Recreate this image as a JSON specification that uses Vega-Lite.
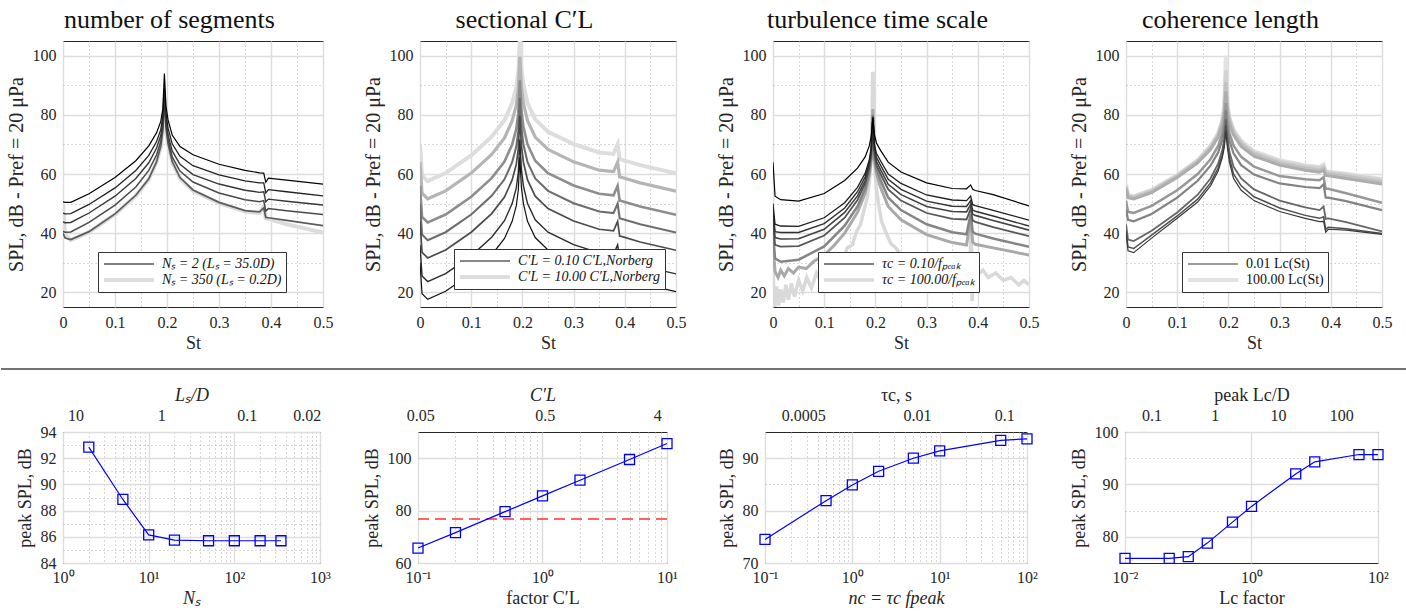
{
"$schema": "https://vega.github.io/schema/vega-lite/v6.json",
"background": "white",
"padding": {"left": 0, "top": 6, "right": 0, "bottom": 0},
"config": {
 "font": "Liberation Serif",
 "view": {"stroke": "#262626", "strokeWidth": 1},
 "title": {"font": "Liberation Serif", "fontSize": 26, "fontWeight": "normal", "color": "#111111", "offset": 8, "anchor": "middle", "frame": "bounds"},
 "axis": {"labelFont": "Liberation Serif", "labelFontSize": 16, "labelColor": "#262626", "titleFont": "Liberation Serif", "titleFontSize": 18, "titleFontWeight": "normal", "titleColor": "#262626", "domain": false, "ticks": false, "labelPadding": 7, "titlePadding": 4, "labelOverlap": false, "labelFlush": false, "grid": true},
 "legend": {"labelFont": "Liberation Serif", "labelFontSize": 14, "labelFontStyle": "italic", "labelColor": "#111111", "strokeColor": "#333333", "fillColor": "white", "padding": 4, "rowPadding": 0, "clipHeight": 16, "labelLimit": 400, "symbolType": "stroke", "labelOffset": 6}
},
"datasets": {
"p1": [
{"s":"350","x":0,"y":50},{"s":"350","x":0.004,"y":39.5},{"s":"350","x":0.015,"y":37.6},{"s":"350","x":0.05,"y":40.3},{"s":"350","x":0.1,"y":46.3},{"s":"350","x":0.14,"y":52.6},{"s":"350","x":0.165,"y":58.2},{"s":"350","x":0.18,"y":64},{"s":"350","x":0.188,"y":69.2},{"s":"350","x":0.192,"y":74.5},{"s":"350","x":0.195,"y":85.7},{"s":"350","x":0.198,"y":75.5},{"s":"350","x":0.202,"y":70},{"s":"350","x":0.21,"y":64},{"s":"350","x":0.225,"y":58.5},{"s":"350","x":0.25,"y":54.3},{"s":"350","x":0.3,"y":50.1},{"s":"350","x":0.35,"y":47.3},{"s":"350","x":0.378,"y":46.8},{"s":"350","x":0.386,"y":49},{"s":"350","x":0.39,"y":45},{"s":"350","x":0.395,"y":44.8},{"s":"350","x":0.43,"y":43},{"s":"350","x":0.5,"y":40.2},
{"s":"50","x":0,"y":40},{"s":"50","x":0.004,"y":38.3},{"s":"50","x":0.015,"y":37.8},{"s":"50","x":0.05,"y":40.5},{"s":"50","x":0.1,"y":46.5},{"s":"50","x":0.14,"y":52.8},{"s":"50","x":0.165,"y":58.4},{"s":"50","x":0.18,"y":64.2},{"s":"50","x":0.188,"y":69.4},{"s":"50","x":0.192,"y":74.7},{"s":"50","x":0.195,"y":85.7},{"s":"50","x":0.198,"y":75.7},{"s":"50","x":0.202,"y":70.2},{"s":"50","x":0.21,"y":64.2},{"s":"50","x":0.225,"y":58.8},{"s":"50","x":0.25,"y":54.6},{"s":"50","x":0.3,"y":50.4},{"s":"50","x":0.35,"y":47.6},{"s":"50","x":0.378,"y":47.2},{"s":"50","x":0.386,"y":48.5},{"s":"50","x":0.39,"y":45.3},{"s":"50","x":0.395,"y":45.2},{"s":"50","x":0.43,"y":44.3},{"s":"50","x":0.5,"y":42.5},
{"s":"20","x":0,"y":40.6},{"s":"20","x":0.004,"y":40.3},{"s":"20","x":0.015,"y":40.4},{"s":"20","x":0.05,"y":43.6},{"s":"20","x":0.1,"y":49.5},{"s":"20","x":0.14,"y":55.6},{"s":"20","x":0.165,"y":61.2},{"s":"20","x":0.18,"y":66.5},{"s":"20","x":0.188,"y":71},{"s":"20","x":0.192,"y":76},{"s":"20","x":0.195,"y":85.8},{"s":"20","x":0.198,"y":77},{"s":"20","x":0.202,"y":71.6},{"s":"20","x":0.21,"y":65.8},{"s":"20","x":0.225,"y":61},{"s":"20","x":0.25,"y":57.3},{"s":"20","x":0.3,"y":53.6},{"s":"20","x":0.35,"y":51.3},{"s":"20","x":0.378,"y":50.6},{"s":"20","x":0.386,"y":51},{"s":"20","x":0.39,"y":47.5},{"s":"20","x":0.395,"y":48.3},{"s":"20","x":0.43,"y":47.6},{"s":"20","x":0.5,"y":46.3},
{"s":"10","x":0,"y":43.8},{"s":"10","x":0.004,"y":43.5},{"s":"10","x":0.015,"y":43.6},{"s":"10","x":0.05,"y":46.8},{"s":"10","x":0.1,"y":52.5},{"s":"10","x":0.14,"y":58.5},{"s":"10","x":0.165,"y":63.8},{"s":"10","x":0.18,"y":68.8},{"s":"10","x":0.188,"y":73},{"s":"10","x":0.192,"y":77.5},{"s":"10","x":0.195,"y":86.2},{"s":"10","x":0.198,"y":78.5},{"s":"10","x":0.202,"y":73.2},{"s":"10","x":0.21,"y":67.8},{"s":"10","x":0.225,"y":63.3},{"s":"10","x":0.25,"y":59.8},{"s":"10","x":0.3,"y":56.6},{"s":"10","x":0.35,"y":54.5},{"s":"10","x":0.378,"y":53.8},{"s":"10","x":0.386,"y":54},{"s":"10","x":0.39,"y":50.6},{"s":"10","x":0.395,"y":51.5},{"s":"10","x":0.43,"y":50.8},{"s":"10","x":0.5,"y":49.5},
{"s":"5","x":0,"y":46.8},{"s":"5","x":0.004,"y":46.5},{"s":"5","x":0.015,"y":46.6},{"s":"5","x":0.05,"y":49.7},{"s":"5","x":0.1,"y":55.3},{"s":"5","x":0.14,"y":61.2},{"s":"5","x":0.165,"y":66.3},{"s":"5","x":0.18,"y":71},{"s":"5","x":0.188,"y":75},{"s":"5","x":0.192,"y":79.5},{"s":"5","x":0.195,"y":89},{"s":"5","x":0.198,"y":80.5},{"s":"5","x":0.202,"y":75.5},{"s":"5","x":0.21,"y":70.2},{"s":"5","x":0.225,"y":66},{"s":"5","x":0.25,"y":62.8},{"s":"5","x":0.3,"y":59.7},{"s":"5","x":0.35,"y":57.7},{"s":"5","x":0.378,"y":57},{"s":"5","x":0.386,"y":57},{"s":"5","x":0.39,"y":53.6},{"s":"5","x":0.395,"y":54.7},{"s":"5","x":0.43,"y":54},{"s":"5","x":0.5,"y":52.6},
{"s":"2","x":0,"y":50.6},{"s":"2","x":0.004,"y":50.4},{"s":"2","x":0.015,"y":50.4},{"s":"2","x":0.05,"y":53.3},{"s":"2","x":0.1,"y":58.8},{"s":"2","x":0.14,"y":64.5},{"s":"2","x":0.165,"y":69.5},{"s":"2","x":0.18,"y":74},{"s":"2","x":0.188,"y":77.8},{"s":"2","x":0.192,"y":82},{"s":"2","x":0.195,"y":94},{"s":"2","x":0.198,"y":83},{"s":"2","x":0.202,"y":78.3},{"s":"2","x":0.21,"y":73.2},{"s":"2","x":0.225,"y":69.3},{"s":"2","x":0.25,"y":66.5},{"s":"2","x":0.3,"y":63.3},{"s":"2","x":0.35,"y":61.2},{"s":"2","x":0.378,"y":60.4},{"s":"2","x":0.386,"y":60.3},{"s":"2","x":0.39,"y":57.2},{"s":"2","x":0.395,"y":58.6},{"s":"2","x":0.43,"y":57.9},{"s":"2","x":0.5,"y":56.6}
],
"p2": [
{"s":"10","x":0,"y":70},{"s":"10","x":0.004,"y":59.5},{"s":"10","x":0.015,"y":57.6},{"s":"10","x":0.05,"y":60.3},{"s":"10","x":0.1,"y":66.3},{"s":"10","x":0.14,"y":72.6},{"s":"10","x":0.165,"y":78.2},{"s":"10","x":0.18,"y":84},{"s":"10","x":0.188,"y":89.2},{"s":"10","x":0.192,"y":94.5},{"s":"10","x":0.195,"y":105.7},{"s":"10","x":0.198,"y":95.5},{"s":"10","x":0.202,"y":90},{"s":"10","x":0.21,"y":84},{"s":"10","x":0.225,"y":78.5},{"s":"10","x":0.25,"y":74.3},{"s":"10","x":0.3,"y":70.1},{"s":"10","x":0.35,"y":67.3},{"s":"10","x":0.378,"y":66.8},{"s":"10","x":0.386,"y":70},{"s":"10","x":0.39,"y":65},{"s":"10","x":0.395,"y":64.8},{"s":"10","x":0.43,"y":63},{"s":"10","x":0.5,"y":60.2},
{"s":"5","x":0,"y":64},{"s":"5","x":0.004,"y":53.5},{"s":"5","x":0.015,"y":51.6},{"s":"5","x":0.05,"y":54.3},{"s":"5","x":0.1,"y":60.3},{"s":"5","x":0.14,"y":66.6},{"s":"5","x":0.165,"y":72.2},{"s":"5","x":0.18,"y":78},{"s":"5","x":0.188,"y":83.2},{"s":"5","x":0.192,"y":88.5},{"s":"5","x":0.195,"y":99.7},{"s":"5","x":0.198,"y":89.5},{"s":"5","x":0.202,"y":84},{"s":"5","x":0.21,"y":78},{"s":"5","x":0.225,"y":72.5},{"s":"5","x":0.25,"y":68.3},{"s":"5","x":0.3,"y":64.1},{"s":"5","x":0.35,"y":61.3},{"s":"5","x":0.378,"y":60.8},{"s":"5","x":0.386,"y":64},{"s":"5","x":0.39,"y":59},{"s":"5","x":0.395,"y":58.8},{"s":"5","x":0.43,"y":57},{"s":"5","x":0.5,"y":54.2},
{"s":"2","x":0,"y":56},{"s":"2","x":0.004,"y":45.5},{"s":"2","x":0.015,"y":43.6},{"s":"2","x":0.05,"y":46.3},{"s":"2","x":0.1,"y":52.3},{"s":"2","x":0.14,"y":58.6},{"s":"2","x":0.165,"y":64.2},{"s":"2","x":0.18,"y":70},{"s":"2","x":0.188,"y":75.2},{"s":"2","x":0.192,"y":80.5},{"s":"2","x":0.195,"y":91.7},{"s":"2","x":0.198,"y":81.5},{"s":"2","x":0.202,"y":76},{"s":"2","x":0.21,"y":70},{"s":"2","x":0.225,"y":64.5},{"s":"2","x":0.25,"y":60.3},{"s":"2","x":0.3,"y":56.1},{"s":"2","x":0.35,"y":53.3},{"s":"2","x":0.378,"y":52.8},{"s":"2","x":0.386,"y":56},{"s":"2","x":0.39,"y":51},{"s":"2","x":0.395,"y":50.8},{"s":"2","x":0.43,"y":49},{"s":"2","x":0.5,"y":46.2},
{"s":"1","x":0,"y":50},{"s":"1","x":0.004,"y":39.5},{"s":"1","x":0.015,"y":37.6},{"s":"1","x":0.05,"y":40.3},{"s":"1","x":0.1,"y":46.3},{"s":"1","x":0.14,"y":52.6},{"s":"1","x":0.165,"y":58.2},{"s":"1","x":0.18,"y":64},{"s":"1","x":0.188,"y":69.2},{"s":"1","x":0.192,"y":74.5},{"s":"1","x":0.195,"y":85.7},{"s":"1","x":0.198,"y":75.5},{"s":"1","x":0.202,"y":70},{"s":"1","x":0.21,"y":64},{"s":"1","x":0.225,"y":58.5},{"s":"1","x":0.25,"y":54.3},{"s":"1","x":0.3,"y":50.1},{"s":"1","x":0.35,"y":47.3},{"s":"1","x":0.378,"y":46.8},{"s":"1","x":0.386,"y":50},{"s":"1","x":0.39,"y":45},{"s":"1","x":0.395,"y":44.8},{"s":"1","x":0.43,"y":43},{"s":"1","x":0.5,"y":40.2},
{"s":"0.5","x":0,"y":44},{"s":"0.5","x":0.004,"y":33.5},{"s":"0.5","x":0.015,"y":31.6},{"s":"0.5","x":0.05,"y":34.3},{"s":"0.5","x":0.1,"y":40.3},{"s":"0.5","x":0.14,"y":46.6},{"s":"0.5","x":0.165,"y":52.2},{"s":"0.5","x":0.18,"y":58},{"s":"0.5","x":0.188,"y":63.2},{"s":"0.5","x":0.192,"y":68.5},{"s":"0.5","x":0.195,"y":79.7},{"s":"0.5","x":0.198,"y":69.5},{"s":"0.5","x":0.202,"y":64},{"s":"0.5","x":0.21,"y":58},{"s":"0.5","x":0.225,"y":52.5},{"s":"0.5","x":0.25,"y":48.3},{"s":"0.5","x":0.3,"y":44.1},{"s":"0.5","x":0.35,"y":41.3},{"s":"0.5","x":0.378,"y":40.8},{"s":"0.5","x":0.386,"y":44},{"s":"0.5","x":0.39,"y":39},{"s":"0.5","x":0.395,"y":38.8},{"s":"0.5","x":0.43,"y":37},{"s":"0.5","x":0.5,"y":34.2},
{"s":"0.2","x":0,"y":36},{"s":"0.2","x":0.004,"y":25.5},{"s":"0.2","x":0.015,"y":23.6},{"s":"0.2","x":0.05,"y":26.3},{"s":"0.2","x":0.1,"y":32.3},{"s":"0.2","x":0.14,"y":38.6},{"s":"0.2","x":0.165,"y":44.2},{"s":"0.2","x":0.18,"y":50},{"s":"0.2","x":0.188,"y":55.2},{"s":"0.2","x":0.192,"y":60.5},{"s":"0.2","x":0.195,"y":71.7},{"s":"0.2","x":0.198,"y":61.5},{"s":"0.2","x":0.202,"y":56},{"s":"0.2","x":0.21,"y":50},{"s":"0.2","x":0.225,"y":44.5},{"s":"0.2","x":0.25,"y":40.3},{"s":"0.2","x":0.3,"y":36.1},{"s":"0.2","x":0.35,"y":33.3},{"s":"0.2","x":0.378,"y":32.8},{"s":"0.2","x":0.386,"y":36},{"s":"0.2","x":0.39,"y":31},{"s":"0.2","x":0.395,"y":30.8},{"s":"0.2","x":0.43,"y":29},{"s":"0.2","x":0.5,"y":26.2},
{"s":"0.1","x":0,"y":30},{"s":"0.1","x":0.004,"y":19.5},{"s":"0.1","x":0.015,"y":17.6},{"s":"0.1","x":0.05,"y":20.3},{"s":"0.1","x":0.1,"y":26.3},{"s":"0.1","x":0.14,"y":32.6},{"s":"0.1","x":0.165,"y":38.2},{"s":"0.1","x":0.18,"y":44},{"s":"0.1","x":0.188,"y":49.2},{"s":"0.1","x":0.192,"y":54.5},{"s":"0.1","x":0.195,"y":65.7},{"s":"0.1","x":0.198,"y":55.5},{"s":"0.1","x":0.202,"y":50},{"s":"0.1","x":0.21,"y":44},{"s":"0.1","x":0.225,"y":38.5},{"s":"0.1","x":0.25,"y":34.3},{"s":"0.1","x":0.3,"y":30.1},{"s":"0.1","x":0.35,"y":27.3},{"s":"0.1","x":0.378,"y":26.8},{"s":"0.1","x":0.386,"y":30},{"s":"0.1","x":0.39,"y":25},{"s":"0.1","x":0.395,"y":24.8},{"s":"0.1","x":0.43,"y":23},{"s":"0.1","x":0.5,"y":20.2}
],
"p3": [
{"s":"100","x":0,"y":28},{"s":"100","x":0.003,"y":14},{"s":"100","x":0.007,"y":22},{"s":"100","x":0.011,"y":15.5},{"s":"100","x":0.015,"y":21},{"s":"100","x":0.02,"y":16.5},{"s":"100","x":0.025,"y":22.5},{"s":"100","x":0.03,"y":17.5},{"s":"100","x":0.036,"y":23},{"s":"100","x":0.042,"y":18.5},{"s":"100","x":0.05,"y":24},{"s":"100","x":0.058,"y":20.5},{"s":"100","x":0.066,"y":25},{"s":"100","x":0.075,"y":21.5},{"s":"100","x":0.085,"y":26.5},{"s":"100","x":0.095,"y":23.5},{"s":"100","x":0.105,"y":28.5},{"s":"100","x":0.115,"y":26.5},{"s":"100","x":0.125,"y":31},{"s":"100","x":0.135,"y":30},{"s":"100","x":0.145,"y":35},{"s":"100","x":0.155,"y":36},{"s":"100","x":0.163,"y":40.5},{"s":"100","x":0.171,"y":43},{"s":"100","x":0.178,"y":48},{"s":"100","x":0.184,"y":52},{"s":"100","x":0.188,"y":57},{"s":"100","x":0.191,"y":63},{"s":"100","x":0.193,"y":72},{"s":"100","x":0.1945,"y":94},{"s":"100","x":0.1955,"y":94},{"s":"100","x":0.197,"y":72},{"s":"100","x":0.199,"y":62},{"s":"100","x":0.202,"y":55},{"s":"100","x":0.206,"y":50},{"s":"100","x":0.212,"y":44},{"s":"100","x":0.22,"y":40.5},{"s":"100","x":0.23,"y":36.5},{"s":"100","x":0.24,"y":35},{"s":"100","x":0.25,"y":32.5},{"s":"100","x":0.265,"y":32},{"s":"100","x":0.28,"y":29.5},{"s":"100","x":0.295,"y":29.5},{"s":"100","x":0.31,"y":27.5},{"s":"100","x":0.325,"y":28},{"s":"100","x":0.34,"y":26.5},{"s":"100","x":0.355,"y":27},{"s":"100","x":0.37,"y":25.5},{"s":"100","x":0.38,"y":26.5},{"s":"100","x":0.385,"y":30},{"s":"100","x":0.387,"y":45},{"s":"100","x":0.389,"y":17},{"s":"100","x":0.392,"y":29},{"s":"100","x":0.4,"y":26},{"s":"100","x":0.41,"y":27.5},{"s":"100","x":0.42,"y":25},{"s":"100","x":0.435,"y":26.5},{"s":"100","x":0.45,"y":24},{"s":"100","x":0.465,"y":25},{"s":"100","x":0.48,"y":22.5},{"s":"100","x":0.49,"y":24},{"s":"100","x":0.5,"y":22.5},
{"s":"50","x":0,"y":36},{"s":"50","x":0.004,"y":27},{"s":"50","x":0.01,"y":25},{"s":"50","x":0.015,"y":27.5},{"s":"50","x":0.022,"y":25.5},{"s":"50","x":0.03,"y":28},{"s":"50","x":0.04,"y":26.5},{"s":"50","x":0.05,"y":28.5},{"s":"50","x":0.065,"y":28},{"s":"50","x":0.08,"y":30.5},{"s":"50","x":0.1,"y":32.5},{"s":"50","x":0.12,"y":36},{"s":"50","x":0.14,"y":40},{"s":"50","x":0.165,"y":47},{"s":"50","x":0.18,"y":53.5},{"s":"50","x":0.188,"y":59.5},{"s":"50","x":0.192,"y":65},{"s":"50","x":0.195,"y":82},{"s":"50","x":0.198,"y":65},{"s":"50","x":0.202,"y":60},{"s":"50","x":0.21,"y":55.5},{"s":"50","x":0.225,"y":49},{"s":"50","x":0.25,"y":44.5},{"s":"50","x":0.3,"y":39.5},{"s":"50","x":0.35,"y":36.8},{"s":"50","x":0.378,"y":36},{"s":"50","x":0.386,"y":45},{"s":"50","x":0.39,"y":37},{"s":"50","x":0.395,"y":36.2},{"s":"50","x":0.43,"y":35},{"s":"50","x":0.5,"y":32.6},
{"s":"10","x":0,"y":40},{"s":"10","x":0.004,"y":31.5},{"s":"10","x":0.015,"y":30.3},{"s":"10","x":0.05,"y":31},{"s":"10","x":0.1,"y":35.5},{"s":"10","x":0.14,"y":42.5},{"s":"10","x":0.165,"y":49},{"s":"10","x":0.18,"y":55},{"s":"10","x":0.188,"y":60.5},{"s":"10","x":0.192,"y":65.5},{"s":"10","x":0.195,"y":80},{"s":"10","x":0.198,"y":65.8},{"s":"10","x":0.202,"y":61.5},{"s":"10","x":0.21,"y":58},{"s":"10","x":0.225,"y":52},{"s":"10","x":0.25,"y":47.8},{"s":"10","x":0.3,"y":43},{"s":"10","x":0.35,"y":40.3},{"s":"10","x":0.378,"y":39.6},{"s":"10","x":0.386,"y":46.5},{"s":"10","x":0.39,"y":40.5},{"s":"10","x":0.395,"y":39.8},{"s":"10","x":0.43,"y":38.2},{"s":"10","x":0.5,"y":35.4},
{"s":"5","x":0,"y":44},{"s":"5","x":0.004,"y":36},{"s":"5","x":0.015,"y":35.4},{"s":"5","x":0.05,"y":35.6},{"s":"5","x":0.1,"y":39.2},{"s":"5","x":0.14,"y":45.2},{"s":"5","x":0.165,"y":51.2},{"s":"5","x":0.18,"y":56.7},{"s":"5","x":0.188,"y":61.8},{"s":"5","x":0.192,"y":66.6},{"s":"5","x":0.195,"y":79.5},{"s":"5","x":0.198,"y":67},{"s":"5","x":0.202,"y":63},{"s":"5","x":0.21,"y":60},{"s":"5","x":0.225,"y":54.8},{"s":"5","x":0.25,"y":51},{"s":"5","x":0.3,"y":46.8},{"s":"5","x":0.35,"y":44.8},{"s":"5","x":0.378,"y":44.6},{"s":"5","x":0.386,"y":48.3},{"s":"5","x":0.39,"y":44.3},{"s":"5","x":0.395,"y":43.8},{"s":"5","x":0.43,"y":42},{"s":"5","x":0.5,"y":39},
{"s":"2","x":0,"y":46},{"s":"2","x":0.004,"y":38.5},{"s":"2","x":0.015,"y":38},{"s":"2","x":0.05,"y":38.1},{"s":"2","x":0.1,"y":41.3},{"s":"2","x":0.14,"y":47},{"s":"2","x":0.165,"y":52.6},{"s":"2","x":0.18,"y":57.8},{"s":"2","x":0.188,"y":62.8},{"s":"2","x":0.192,"y":67.4},{"s":"2","x":0.195,"y":79},{"s":"2","x":0.198,"y":68},{"s":"2","x":0.202,"y":64.3},{"s":"2","x":0.21,"y":61.5},{"s":"2","x":0.225,"y":56.5},{"s":"2","x":0.25,"y":53},{"s":"2","x":0.3,"y":49},{"s":"2","x":0.35,"y":47.3},{"s":"2","x":0.378,"y":47.2},{"s":"2","x":0.386,"y":49.7},{"s":"2","x":0.39,"y":46.4},{"s":"2","x":0.395,"y":46},{"s":"2","x":0.43,"y":44.3},{"s":"2","x":0.5,"y":41},
{"s":"1","x":0,"y":48},{"s":"1","x":0.004,"y":40.5},{"s":"1","x":0.015,"y":40.2},{"s":"1","x":0.05,"y":40.2},{"s":"1","x":0.1,"y":43.2},{"s":"1","x":0.14,"y":48.5},{"s":"1","x":0.165,"y":54},{"s":"1","x":0.18,"y":59},{"s":"1","x":0.188,"y":63.8},{"s":"1","x":0.192,"y":68.2},{"s":"1","x":0.195,"y":79},{"s":"1","x":0.198,"y":69},{"s":"1","x":0.202,"y":65.6},{"s":"1","x":0.21,"y":63},{"s":"1","x":0.225,"y":58.2},{"s":"1","x":0.25,"y":54.8},{"s":"1","x":0.3,"y":50.8},{"s":"1","x":0.35,"y":49.1},{"s":"1","x":0.378,"y":49},{"s":"1","x":0.386,"y":51},{"s":"1","x":0.39,"y":47.8},{"s":"1","x":0.395,"y":47.4},{"s":"1","x":0.43,"y":45.8},{"s":"1","x":0.5,"y":42.4},
{"s":"0.5","x":0,"y":50},{"s":"0.5","x":0.004,"y":43},{"s":"0.5","x":0.015,"y":42.4},{"s":"0.5","x":0.05,"y":42.3},{"s":"0.5","x":0.1,"y":45.2},{"s":"0.5","x":0.14,"y":50.3},{"s":"0.5","x":0.165,"y":55.5},{"s":"0.5","x":0.18,"y":60.2},{"s":"0.5","x":0.188,"y":64.8},{"s":"0.5","x":0.192,"y":69},{"s":"0.5","x":0.195,"y":79},{"s":"0.5","x":0.198,"y":70},{"s":"0.5","x":0.202,"y":67},{"s":"0.5","x":0.21,"y":64.5},{"s":"0.5","x":0.225,"y":60},{"s":"0.5","x":0.25,"y":56.8},{"s":"0.5","x":0.3,"y":52.9},{"s":"0.5","x":0.35,"y":51.2},{"s":"0.5","x":0.378,"y":51},{"s":"0.5","x":0.386,"y":52.5},{"s":"0.5","x":0.39,"y":49.6},{"s":"0.5","x":0.395,"y":49.3},{"s":"0.5","x":0.43,"y":47.7},{"s":"0.5","x":0.5,"y":44.4},
{"s":"0.1","x":0,"y":64},{"s":"0.1","x":0.004,"y":52.5},{"s":"0.1","x":0.015,"y":51.3},{"s":"0.1","x":0.05,"y":50.8},{"s":"0.1","x":0.1,"y":53.4},{"s":"0.1","x":0.14,"y":57.8},{"s":"0.1","x":0.165,"y":62},{"s":"0.1","x":0.18,"y":65.8},{"s":"0.1","x":0.188,"y":69.5},{"s":"0.1","x":0.192,"y":73},{"s":"0.1","x":0.195,"y":79},{"s":"0.1","x":0.198,"y":73.5},{"s":"0.1","x":0.202,"y":70.5},{"s":"0.1","x":0.21,"y":68},{"s":"0.1","x":0.225,"y":64},{"s":"0.1","x":0.25,"y":60.7},{"s":"0.1","x":0.3,"y":57},{"s":"0.1","x":0.35,"y":55.1},{"s":"0.1","x":0.378,"y":55},{"s":"0.1","x":0.386,"y":56.3},{"s":"0.1","x":0.39,"y":54.8},{"s":"0.1","x":0.395,"y":54.4},{"s":"0.1","x":0.43,"y":53},{"s":"0.1","x":0.5,"y":49.2}
],
"p4": [
{"s":"100","x":0,"y":56.5},{"s":"100","x":0.004,"y":53},{"s":"100","x":0.015,"y":52.5},{"s":"100","x":0.05,"y":54.6},{"s":"100","x":0.1,"y":59.7},{"s":"100","x":0.14,"y":64.7},{"s":"100","x":0.165,"y":69.5},{"s":"100","x":0.18,"y":73.8},{"s":"100","x":0.188,"y":78.2},{"s":"100","x":0.192,"y":83.5},{"s":"100","x":0.195,"y":100},{"s":"100","x":0.198,"y":84},{"s":"100","x":0.202,"y":79.2},{"s":"100","x":0.21,"y":75},{"s":"100","x":0.225,"y":71.2},{"s":"100","x":0.25,"y":67.7},{"s":"100","x":0.3,"y":64.7},{"s":"100","x":0.35,"y":63},{"s":"100","x":0.378,"y":62.4},{"s":"100","x":0.386,"y":63.2},{"s":"100","x":0.39,"y":61},{"s":"100","x":0.395,"y":60.8},{"s":"100","x":0.43,"y":60.1},{"s":"100","x":0.5,"y":58.3},
{"s":"50","x":0,"y":56},{"s":"50","x":0.004,"y":52.7},{"s":"50","x":0.015,"y":52.3},{"s":"50","x":0.05,"y":54.4},{"s":"50","x":0.1,"y":59.5},{"s":"50","x":0.14,"y":64.5},{"s":"50","x":0.165,"y":69.2},{"s":"50","x":0.18,"y":73.5},{"s":"50","x":0.188,"y":77.8},{"s":"50","x":0.192,"y":82.5},{"s":"50","x":0.195,"y":95},{"s":"50","x":0.198,"y":83},{"s":"50","x":0.202,"y":78.7},{"s":"50","x":0.21,"y":74.6},{"s":"50","x":0.225,"y":70.8},{"s":"50","x":0.25,"y":67.3},{"s":"50","x":0.3,"y":64.3},{"s":"50","x":0.35,"y":62.6},{"s":"50","x":0.378,"y":62},{"s":"50","x":0.386,"y":62.7},{"s":"50","x":0.39,"y":60.7},{"s":"50","x":0.395,"y":60.6},{"s":"50","x":0.43,"y":59.8},{"s":"50","x":0.5,"y":58},
{"s":"10","x":0,"y":55.5},{"s":"10","x":0.004,"y":52.4},{"s":"10","x":0.015,"y":52},{"s":"10","x":0.05,"y":54.1},{"s":"10","x":0.1,"y":59.2},{"s":"10","x":0.14,"y":64.2},{"s":"10","x":0.165,"y":68.8},{"s":"10","x":0.18,"y":73},{"s":"10","x":0.188,"y":77.2},{"s":"10","x":0.192,"y":81.5},{"s":"10","x":0.195,"y":91},{"s":"10","x":0.198,"y":82},{"s":"10","x":0.202,"y":78},{"s":"10","x":0.21,"y":74},{"s":"10","x":0.225,"y":70.2},{"s":"10","x":0.25,"y":66.8},{"s":"10","x":0.3,"y":63.8},{"s":"10","x":0.35,"y":62},{"s":"10","x":0.378,"y":61.3},{"s":"10","x":0.386,"y":62},{"s":"10","x":0.39,"y":60.3},{"s":"10","x":0.395,"y":60.2},{"s":"10","x":0.43,"y":59.3},{"s":"10","x":0.5,"y":57.3},
{"s":"5","x":0,"y":55},{"s":"5","x":0.004,"y":52},{"s":"5","x":0.015,"y":51.6},{"s":"5","x":0.05,"y":53.7},{"s":"5","x":0.1,"y":58.8},{"s":"5","x":0.14,"y":63.8},{"s":"5","x":0.165,"y":68.3},{"s":"5","x":0.18,"y":72.5},{"s":"5","x":0.188,"y":76.5},{"s":"5","x":0.192,"y":80.5},{"s":"5","x":0.195,"y":88},{"s":"5","x":0.198,"y":81},{"s":"5","x":0.202,"y":77},{"s":"5","x":0.21,"y":73.2},{"s":"5","x":0.225,"y":69.3},{"s":"5","x":0.25,"y":66},{"s":"5","x":0.3,"y":63},{"s":"5","x":0.35,"y":61.3},{"s":"5","x":0.378,"y":60.6},{"s":"5","x":0.386,"y":61.3},{"s":"5","x":0.39,"y":59.5},{"s":"5","x":0.395,"y":59.4},{"s":"5","x":0.43,"y":58.5},{"s":"5","x":0.5,"y":56.6},
{"s":"1","x":0,"y":51},{"s":"1","x":0.004,"y":47.2},{"s":"1","x":0.015,"y":46.8},{"s":"1","x":0.05,"y":49.2},{"s":"1","x":0.1,"y":54.5},{"s":"1","x":0.14,"y":60},{"s":"1","x":0.165,"y":65},{"s":"1","x":0.18,"y":69.5},{"s":"1","x":0.188,"y":73.7},{"s":"1","x":0.192,"y":77.5},{"s":"1","x":0.195,"y":84},{"s":"1","x":0.198,"y":77.8},{"s":"1","x":0.202,"y":73.8},{"s":"1","x":0.21,"y":69.7},{"s":"1","x":0.225,"y":65.8},{"s":"1","x":0.25,"y":62.5},{"s":"1","x":0.3,"y":59.3},{"s":"1","x":0.35,"y":58.2},{"s":"1","x":0.378,"y":57.9},{"s":"1","x":0.386,"y":59},{"s":"1","x":0.39,"y":55},{"s":"1","x":0.395,"y":55},{"s":"1","x":0.43,"y":53.5},{"s":"1","x":0.5,"y":50.3},
{"s":"0.5","x":0,"y":48},{"s":"0.5","x":0.004,"y":44.5},{"s":"0.5","x":0.015,"y":44},{"s":"0.5","x":0.05,"y":46.5},{"s":"0.5","x":0.1,"y":52},{"s":"0.5","x":0.14,"y":57.7},{"s":"0.5","x":0.165,"y":62.8},{"s":"0.5","x":0.18,"y":67.3},{"s":"0.5","x":0.188,"y":71.5},{"s":"0.5","x":0.192,"y":75.3},{"s":"0.5","x":0.195,"y":81.5},{"s":"0.5","x":0.198,"y":75.5},{"s":"0.5","x":0.202,"y":71.3},{"s":"0.5","x":0.21,"y":67},{"s":"0.5","x":0.225,"y":63},{"s":"0.5","x":0.25,"y":59.8},{"s":"0.5","x":0.3,"y":56.8},{"s":"0.5","x":0.35,"y":55.6},{"s":"0.5","x":0.378,"y":55.2},{"s":"0.5","x":0.386,"y":56.5},{"s":"0.5","x":0.39,"y":52},{"s":"0.5","x":0.395,"y":52},{"s":"0.5","x":0.43,"y":50.8},{"s":"0.5","x":0.5,"y":47.8},
{"s":"0.2","x":0,"y":43},{"s":"0.2","x":0.004,"y":37.8},{"s":"0.2","x":0.015,"y":37.3},{"s":"0.2","x":0.05,"y":40.8},{"s":"0.2","x":0.1,"y":47},{"s":"0.2","x":0.14,"y":53},{"s":"0.2","x":0.165,"y":58.5},{"s":"0.2","x":0.18,"y":63.5},{"s":"0.2","x":0.188,"y":68},{"s":"0.2","x":0.192,"y":72},{"s":"0.2","x":0.195,"y":78.5},{"s":"0.2","x":0.198,"y":72.5},{"s":"0.2","x":0.202,"y":67.5},{"s":"0.2","x":0.21,"y":62.5},{"s":"0.2","x":0.225,"y":58.5},{"s":"0.2","x":0.25,"y":54.8},{"s":"0.2","x":0.3,"y":51},{"s":"0.2","x":0.35,"y":48.7},{"s":"0.2","x":0.378,"y":47.8},{"s":"0.2","x":0.386,"y":49},{"s":"0.2","x":0.39,"y":44.8},{"s":"0.2","x":0.395,"y":45},{"s":"0.2","x":0.43,"y":43.7},{"s":"0.2","x":0.5,"y":40.6},
{"s":"0.1","x":0,"y":41},{"s":"0.1","x":0.004,"y":35.3},{"s":"0.1","x":0.015,"y":34.8},{"s":"0.1","x":0.05,"y":39.3},{"s":"0.1","x":0.1,"y":45.8},{"s":"0.1","x":0.14,"y":51.5},{"s":"0.1","x":0.165,"y":57},{"s":"0.1","x":0.18,"y":62},{"s":"0.1","x":0.188,"y":66.5},{"s":"0.1","x":0.192,"y":70.5},{"s":"0.1","x":0.195,"y":76.5},{"s":"0.1","x":0.198,"y":70.5},{"s":"0.1","x":0.202,"y":65.5},{"s":"0.1","x":0.21,"y":60},{"s":"0.1","x":0.225,"y":56},{"s":"0.1","x":0.25,"y":52.3},{"s":"0.1","x":0.3,"y":48.5},{"s":"0.1","x":0.35,"y":46},{"s":"0.1","x":0.378,"y":45},{"s":"0.1","x":0.386,"y":45.5},{"s":"0.1","x":0.39,"y":41.2},{"s":"0.1","x":0.395,"y":42},{"s":"0.1","x":0.43,"y":41.5},{"s":"0.1","x":0.5,"y":39.9},
{"s":"0.01","x":0,"y":40},{"s":"0.01","x":0.004,"y":34},{"s":"0.01","x":0.015,"y":33.4},{"s":"0.01","x":0.05,"y":38.3},{"s":"0.01","x":0.1,"y":45},{"s":"0.01","x":0.14,"y":50.5},{"s":"0.01","x":0.165,"y":56},{"s":"0.01","x":0.18,"y":61},{"s":"0.01","x":0.188,"y":65.5},{"s":"0.01","x":0.192,"y":69},{"s":"0.01","x":0.195,"y":74.5},{"s":"0.01","x":0.198,"y":69},{"s":"0.01","x":0.202,"y":64},{"s":"0.01","x":0.21,"y":58.5},{"s":"0.01","x":0.225,"y":54.5},{"s":"0.01","x":0.25,"y":51},{"s":"0.01","x":0.3,"y":47.3},{"s":"0.01","x":0.35,"y":45},{"s":"0.01","x":0.378,"y":43.9},{"s":"0.01","x":0.386,"y":44},{"s":"0.01","x":0.39,"y":40.3},{"s":"0.01","x":0.395,"y":41.3},{"s":"0.01","x":0.43,"y":41},{"s":"0.01","x":0.5,"y":39.6}
],
"b1": [{"n":2,"ls":7,"y":92.85},{"n":5,"ls":2.8,"y":88.85},{"n":10,"ls":1.4,"y":86.15},{"n":20,"ls":0.7,"y":85.75},{"n":50,"ls":0.28,"y":85.7},{"n":100,"ls":0.14,"y":85.7},{"n":200,"ls":0.07,"y":85.7},{"n":350,"ls":0.04,"y":85.7}],
"b2": [{"f":0.1,"c":0.048,"y":65.7},{"f":0.2,"c":0.096,"y":71.6},{"f":0.5,"c":0.24,"y":79.6},{"f":1,"c":0.48,"y":85.6},{"f":2,"c":0.96,"y":91.6},{"f":5,"c":2.4,"y":99.5},{"f":10,"c":4.8,"y":105.6}],
"b2ref": [{"y":76.8}],
"b3": [{"n":0.1,"t":0.000182,"y":74.5},{"n":0.5,"t":0.000909,"y":81.9},{"n":1,"t":0.00182,"y":84.9},{"n":2,"t":0.00364,"y":87.5},{"n":5,"t":0.00909,"y":90},{"n":10,"t":0.0182,"y":91.4},{"n":50,"t":0.0909,"y":93.4},{"n":100,"t":0.182,"y":93.7}],
"b4": [{"f":0.01,"d":0.038,"y":75.9},{"f":0.05,"d":0.19,"y":75.9},{"f":0.1,"d":0.38,"y":76.2},{"f":0.2,"d":0.76,"y":78.8},{"f":0.5,"d":1.9,"y":82.8},{"f":1,"d":3.8,"y":85.8},{"f":5,"d":19,"y":92},{"f":10,"d":38,"y":94.3},{"f":50,"d":190,"y":95.7},{"f":100,"d":380,"y":95.7}],
"sep": [{"a":0,"b":1,"y":0}]
},
"columns": 1,
"align": "none",
"spacing": 15,
"concat": [
{"hconcat": [
 {"width": 260, "height": 266, "title": "number of segments", "data": {"name": "p1"},
  "mark": {"type": "line", "clip": true},
  "encoding": {
   "x": {"field": "x", "type": "quantitative", "scale": {"domain": [0, 0.5], "nice": false, "zero": false}, "axis": {"title": "St", "values": [0,0.05,0.1,0.15,0.2,0.25,0.3,0.35,0.4,0.45,0.5], "format": "~g", "labelExpr": "abs(datum.value*10-round(datum.value*10))<0.001 ? datum.label : ''", "gridDash": {"condition": {"test": "abs(datum.value*10-round(datum.value*10))>0.001", "value": [1,3]}, "value": []}, "gridColor": {"condition": {"test": "abs(datum.value*10-round(datum.value*10))>0.001", "value": "#b0b0b0"}, "value": "#dddddd"}, "gridWidth": {"condition": {"test": "abs(datum.value*10-round(datum.value*10))>0.001", "value": 1}, "value": 1.4}}},
   "y": {"field": "y", "type": "quantitative", "scale": {"domain": [15, 105], "nice": false, "zero": false}, "axis": {"title": "SPL, dB - Pref = 20 μPa", "titleFontSize": 20, "titlePadding": 6, "values": [20,30,40,50,60,70,80,90,100], "labelExpr": "datum.value % 20 == 0 ? datum.label : ''", "gridDash": {"condition": {"test": "datum.value % 20 != 0", "value": [1,3]}, "value": []}, "gridColor": {"condition": {"test": "datum.value % 20 != 0", "value": "#b0b0b0"}, "value": "#dddddd"}, "gridWidth": {"condition": {"test": "datum.value % 20 != 0", "value": 1}, "value": 1.4}}},
   "color": {"field": "s", "type": "nominal", "scale": {"domain": ["2","5","10","20","50","350"], "range": ["#000000","#222222","#363636","#494949","#5c5c5c","#dcdcdc"]}, "legend": {"values": ["2","350"], "title": null, "orient": "none", "legendX": 35, "legendY": 211, "symbolSize": 2500, "labelExpr": "datum.value == '2' ? 'Nₛ = 2 (Lₛ = 35.0D)' : 'Nₛ = 350 (Lₛ = 0.2D)'"}},
   "strokeWidth": {"field": "s", "type": "nominal", "scale": {"type": "ordinal", "domain": ["2","5","10","20","50","350"], "range": [1.2,1.3,1.4,1.5,1.7,4]}, "legend": {"values": ["2","350"], "title": null, "orient": "none", "legendX": 35, "legendY": 211, "symbolSize": 2500, "labelExpr": "datum.value == '2' ? 'Nₛ = 2 (Lₛ = 35.0D)' : 'Nₛ = 350 (Lₛ = 0.2D)'"}}
  }},
 {"width": 256, "height": 266, "title": "sectional C′L", "data": {"name": "p2"},
  "mark": {"type": "line", "clip": true},
  "encoding": {
   "x": {"field": "x", "type": "quantitative", "scale": {"domain": [0, 0.5], "nice": false, "zero": false}, "axis": {"title": "St", "values": [0,0.05,0.1,0.15,0.2,0.25,0.3,0.35,0.4,0.45,0.5], "format": "~g", "labelExpr": "abs(datum.value*10-round(datum.value*10))<0.001 ? datum.label : ''", "gridDash": {"condition": {"test": "abs(datum.value*10-round(datum.value*10))>0.001", "value": [1,3]}, "value": []}, "gridColor": {"condition": {"test": "abs(datum.value*10-round(datum.value*10))>0.001", "value": "#b0b0b0"}, "value": "#dddddd"}, "gridWidth": {"condition": {"test": "abs(datum.value*10-round(datum.value*10))>0.001", "value": 1}, "value": 1.4}}},
   "y": {"field": "y", "type": "quantitative", "scale": {"domain": [15, 105], "nice": false, "zero": false}, "axis": {"title": "SPL, dB - Pref = 20 μPa", "titleFontSize": 20, "titlePadding": 6, "values": [20,30,40,50,60,70,80,90,100], "labelExpr": "datum.value % 20 == 0 ? datum.label : ''", "gridDash": {"condition": {"test": "datum.value % 20 != 0", "value": [1,3]}, "value": []}, "gridColor": {"condition": {"test": "datum.value % 20 != 0", "value": "#b0b0b0"}, "value": "#dddddd"}, "gridWidth": {"condition": {"test": "datum.value % 20 != 0", "value": 1}, "value": 1.4}}},
   "color": {"field": "s", "type": "nominal", "scale": {"domain": ["0.1","0.2","0.5","1","2","5","10"], "range": ["#111111","#2b2b2b","#4b4b4b","#6e6e6e","#8e8e8e","#b5b5b5","#dddddd"]}, "legend": {"values": ["0.1","10"], "title": null, "orient": "none", "legendX": 34, "legendY": 208, "symbolSize": 2500, "labelExpr": "datum.value == '0.1' ? 'C′L = 0.10 C′L,Norberg' : 'C′L = 10.00 C′L,Norberg'"}},
   "strokeWidth": {"field": "s", "type": "nominal", "scale": {"type": "ordinal", "domain": ["0.1","0.2","0.5","1","2","5","10"], "range": [1.2,1.4,1.7,2.1,2.6,3.2,4]}, "legend": {"values": ["0.1","10"], "title": null, "orient": "none", "legendX": 34, "legendY": 208, "symbolSize": 2500, "labelExpr": "datum.value == '0.1' ? 'C′L = 0.10 C′L,Norberg' : 'C′L = 10.00 C′L,Norberg'"}}
  }},
 {"width": 256, "height": 266, "title": "turbulence time scale", "data": {"name": "p3"},
  "mark": {"type": "line", "clip": true},
  "encoding": {
   "x": {"field": "x", "type": "quantitative", "scale": {"domain": [0, 0.5], "nice": false, "zero": false}, "axis": {"title": "St", "values": [0,0.05,0.1,0.15,0.2,0.25,0.3,0.35,0.4,0.45,0.5], "format": "~g", "labelExpr": "abs(datum.value*10-round(datum.value*10))<0.001 ? datum.label : ''", "gridDash": {"condition": {"test": "abs(datum.value*10-round(datum.value*10))>0.001", "value": [1,3]}, "value": []}, "gridColor": {"condition": {"test": "abs(datum.value*10-round(datum.value*10))>0.001", "value": "#b0b0b0"}, "value": "#dddddd"}, "gridWidth": {"condition": {"test": "abs(datum.value*10-round(datum.value*10))>0.001", "value": 1}, "value": 1.4}}},
   "y": {"field": "y", "type": "quantitative", "scale": {"domain": [15, 105], "nice": false, "zero": false}, "axis": {"title": "SPL, dB - Pref = 20 μPa", "titleFontSize": 20, "titlePadding": 6, "values": [20,30,40,50,60,70,80,90,100], "labelExpr": "datum.value % 20 == 0 ? datum.label : ''", "gridDash": {"condition": {"test": "datum.value % 20 != 0", "value": [1,3]}, "value": []}, "gridColor": {"condition": {"test": "datum.value % 20 != 0", "value": "#b0b0b0"}, "value": "#dddddd"}, "gridWidth": {"condition": {"test": "datum.value % 20 != 0", "value": 1}, "value": 1.4}}},
   "color": {"field": "s", "type": "nominal", "scale": {"domain": ["0.1","0.5","1","2","5","10","50","100"], "range": ["#000000","#1e1e1e","#303030","#424242","#555555","#858585","#a9a9a9","#d9d9d9"]}, "legend": {"values": ["0.1","100"], "title": null, "orient": "none", "legendX": 45, "legendY": 211, "symbolSize": 2500, "labelExpr": "datum.value == '0.1' ? 'τc = 0.10/fₚₑₐₖ' : 'τc = 100.00/fₚₑₐₖ'"}},
   "strokeWidth": {"field": "s", "type": "nominal", "scale": {"type": "ordinal", "domain": ["0.1","0.5","1","2","5","10","50","100"], "range": [1.2,1.3,1.4,1.6,1.8,2.5,3,3.5]}, "legend": {"values": ["0.1","100"], "title": null, "orient": "none", "legendX": 45, "legendY": 211, "symbolSize": 2500, "labelExpr": "datum.value == '0.1' ? 'τc = 0.10/fₚₑₐₖ' : 'τc = 100.00/fₚₑₐₖ'"}}
  }},
 {"width": 256, "height": 266, "title": "coherence length", "data": {"name": "p4"},
  "mark": {"type": "line", "clip": true},
  "encoding": {
   "x": {"field": "x", "type": "quantitative", "scale": {"domain": [0, 0.5], "nice": false, "zero": false}, "axis": {"title": "St", "values": [0,0.05,0.1,0.15,0.2,0.25,0.3,0.35,0.4,0.45,0.5], "format": "~g", "labelExpr": "abs(datum.value*10-round(datum.value*10))<0.001 ? datum.label : ''", "gridDash": {"condition": {"test": "abs(datum.value*10-round(datum.value*10))>0.001", "value": [1,3]}, "value": []}, "gridColor": {"condition": {"test": "abs(datum.value*10-round(datum.value*10))>0.001", "value": "#b0b0b0"}, "value": "#dddddd"}, "gridWidth": {"condition": {"test": "abs(datum.value*10-round(datum.value*10))>0.001", "value": 1}, "value": 1.4}}},
   "y": {"field": "y", "type": "quantitative", "scale": {"domain": [15, 105], "nice": false, "zero": false}, "axis": {"title": "SPL, dB - Pref = 20 μPa", "titleFontSize": 20, "titlePadding": 6, "values": [20,30,40,50,60,70,80,90,100], "labelExpr": "datum.value % 20 == 0 ? datum.label : ''", "gridDash": {"condition": {"test": "datum.value % 20 != 0", "value": [1,3]}, "value": []}, "gridColor": {"condition": {"test": "datum.value % 20 != 0", "value": "#b0b0b0"}, "value": "#dddddd"}, "gridWidth": {"condition": {"test": "datum.value % 20 != 0", "value": 1}, "value": 1.4}}},
   "color": {"field": "s", "type": "nominal", "scale": {"domain": ["0.01","0.1","0.2","0.5","1","5","10","50","100"], "range": ["#3a3a3a","#4f4f4f","#666666","#838383","#979797","#adadad","#c1c1c1","#d2d2d2","#e2e2e2"]}, "legend": {"values": ["0.01","100"], "title": null, "orient": "none", "legendX": 56, "legendY": 211, "symbolSize": 2500, "labelFontStyle": "normal", "labelExpr": "datum.value == '0.01' ? '0.01 Lc(St)' : '100.00 Lc(St)'"}},
   "strokeWidth": {"field": "s", "type": "nominal", "scale": {"type": "ordinal", "domain": ["0.01","0.1","0.2","0.5","1","5","10","50","100"], "range": [1.2,1.5,1.8,2.2,2.5,3,3.3,3.7,4]}, "legend": {"values": ["0.01","100"], "title": null, "orient": "none", "legendX": 56, "legendY": 211, "symbolSize": 2500, "labelFontStyle": "normal", "labelExpr": "datum.value == '0.01' ? '0.01 Lc(St)' : '100.00 Lc(St)'"}}
  }}
 ], "spacing": 97, "bounds": "flush",
 "resolve": {"scale": {"color": "independent", "strokeWidth": "independent"}, "legend": {"color": "independent", "strokeWidth": "independent"}}},
{"width": 1344, "height": 1, "view": {"stroke": null}, "data": {"name": "sep"},
 "mark": {"type": "rule", "color": "#444444", "strokeWidth": 1.5},
 "encoding": {
  "x": {"field": "a", "type": "quantitative", "axis": null, "scale": {"domain": [0.0441, 1], "nice": false, "zero": false}},
  "x2": {"field": "b"},
  "y": {"field": "y", "type": "quantitative", "axis": null, "scale": {"domain": [0, 1]}}}},
{"hconcat": [
 {"width": 257, "height": 131, "data": {"name": "b1"},
  "layer": [
   {"mark": {"type": "line", "color": "#0000ff", "strokeWidth": 1.2, "point": {"shape": "square", "filled": false, "size": 100, "color": "#0000ff", "strokeWidth": 1.3}},
    "encoding": {
     "x": {"field": "n", "type": "quantitative", "scale": {"type": "log", "domain": [1, 1000], "nice": false}, "axis": {"title": "Nₛ", "titleFontStyle": "italic", "labelPadding": 6, "values": [1,2,3,4,5,6,7,8,9,10,20,30,40,50,60,70,80,90,100,200,300,400,500,600,700,800,900,1000], "labelExpr": "datum.value == 1 ? '10⁰' : datum.value == 10 ? '10¹' : datum.value == 100 ? '10²' : datum.value == 1000 ? '10³' : ''", "gridDash": {"condition": {"test": "abs(log(datum.value)/LN10 - round(log(datum.value)/LN10)) > 0.001", "value": [1,3]}, "value": []}, "gridColor": {"condition": {"test": "abs(log(datum.value)/LN10 - round(log(datum.value)/LN10)) > 0.001", "value": "#b0b0b0"}, "value": "#dddddd"}, "gridWidth": {"condition": {"test": "abs(log(datum.value)/LN10 - round(log(datum.value)/LN10)) > 0.001", "value": 1}, "value": 1.4}}},
     "y": {"field": "y", "type": "quantitative", "scale": {"domain": [84, 94], "nice": false, "zero": false}, "axis": {"title": "peak SPL, dB", "titlePadding": 6, "values": [84,85,86,87,88,89,90,91,92,93,94], "labelExpr": "datum.value % 2 == 0 ? datum.label : ''", "gridDash": {"condition": {"test": "datum.value % 2 != 0", "value": [1,3]}, "value": []}, "gridColor": {"condition": {"test": "datum.value % 2 != 0", "value": "#b0b0b0"}, "value": "#dddddd"}, "gridWidth": {"condition": {"test": "datum.value % 2 != 0", "value": 1}, "value": 1.4}}}
    }},
   {"mark": {"type": "point", "opacity": 0},
    "encoding": {"x": {"field": "ls", "type": "quantitative", "scale": {"type": "log", "domain": [0.014, 14], "reverse": true, "nice": false}, "axis": {"orient": "top", "title": "Lₛ/D", "titleFontStyle": "italic", "values": [10, 1, 0.1, 0.02], "format": "~g", "grid": false, "labelPadding": 9, "titlePadding": 3}}}}
  ],
  "resolve": {"scale": {"x": "independent"}}},
 {"width": 249, "height": 131, "data": {"name": "b2"},
  "layer": [
   {"data": {"name": "b2ref"}, "mark": {"type": "rule", "color": "#ff3030", "strokeDash": [11, 6], "strokeWidth": 1.5},
    "encoding": {"y": {"field": "y", "type": "quantitative"}}},
   {"mark": {"type": "line", "color": "#0000ff", "strokeWidth": 1.2, "point": {"shape": "square", "filled": false, "size": 100, "color": "#0000ff", "strokeWidth": 1.3}},
    "encoding": {
     "x": {"field": "f", "type": "quantitative", "scale": {"type": "log", "domain": [0.1, 10], "nice": false}, "axis": {"title": "factor C′L", "labelPadding": 6, "values": [0.1,0.2,0.3,0.4,0.5,0.6,0.7,0.8,0.9,1,2,3,4,5,6,7,8,9,10], "labelExpr": "datum.value == 0.1 ? '10⁻¹' : datum.value == 1 ? '10⁰' : datum.value == 10 ? '10¹' : ''", "gridDash": {"condition": {"test": "abs(log(datum.value)/LN10 - round(log(datum.value)/LN10)) > 0.001", "value": [1,3]}, "value": []}, "gridColor": {"condition": {"test": "abs(log(datum.value)/LN10 - round(log(datum.value)/LN10)) > 0.001", "value": "#b0b0b0"}, "value": "#dddddd"}, "gridWidth": {"condition": {"test": "abs(log(datum.value)/LN10 - round(log(datum.value)/LN10)) > 0.001", "value": 1}, "value": 1.4}}},
     "y": {"field": "y", "type": "quantitative", "scale": {"domain": [60, 110], "nice": false, "zero": false}, "axis": {"title": "peak SPL, dB", "titlePadding": 6, "values": [60,70,80,90,100], "labelExpr": "datum.value % 20 == 0 ? datum.label : ''", "gridDash": {"condition": {"test": "datum.value % 20 != 0", "value": [1,3]}, "value": []}, "gridColor": {"condition": {"test": "datum.value % 20 != 0", "value": "#b0b0b0"}, "value": "#dddddd"}, "gridWidth": {"condition": {"test": "datum.value % 20 != 0", "value": 1}, "value": 1.4}}}
    }},
   {"mark": {"type": "point", "opacity": 0},
    "encoding": {"x": {"field": "c", "type": "quantitative", "scale": {"type": "log", "domain": [0.048, 4.8], "nice": false}, "axis": {"orient": "top", "title": "C′L", "titleFontStyle": "italic", "values": [0.05, 0.5, 4], "format": "~g", "grid": false, "labelPadding": 9, "titlePadding": 3}}}}
  ],
  "resolve": {"scale": {"x": "independent"}}},
 {"width": 262, "height": 131, "data": {"name": "b3"},
  "layer": [
   {"mark": {"type": "line", "color": "#0000ff", "strokeWidth": 1.2, "point": {"shape": "square", "filled": false, "size": 100, "color": "#0000ff", "strokeWidth": 1.3}},
    "encoding": {
     "x": {"field": "n", "type": "quantitative", "scale": {"type": "log", "domain": [0.1, 100], "nice": false}, "axis": {"title": "nc = τc fpeak", "titleFontStyle": "italic", "labelPadding": 6, "values": [0.1,0.2,0.3,0.4,0.5,0.6,0.7,0.8,0.9,1,2,3,4,5,6,7,8,9,10,20,30,40,50,60,70,80,90,100], "labelExpr": "datum.value == 0.1 ? '10⁻¹' : datum.value == 1 ? '10⁰' : datum.value == 10 ? '10¹' : datum.value == 100 ? '10²' : ''", "gridDash": {"condition": {"test": "abs(log(datum.value)/LN10 - round(log(datum.value)/LN10)) > 0.001", "value": [1,3]}, "value": []}, "gridColor": {"condition": {"test": "abs(log(datum.value)/LN10 - round(log(datum.value)/LN10)) > 0.001", "value": "#b0b0b0"}, "value": "#dddddd"}, "gridWidth": {"condition": {"test": "abs(log(datum.value)/LN10 - round(log(datum.value)/LN10)) > 0.001", "value": 1}, "value": 1.4}}},
     "y": {"field": "y", "type": "quantitative", "scale": {"domain": [70, 95], "nice": false, "zero": false}, "axis": {"title": "peak SPL, dB", "titlePadding": 6, "values": [70,75,80,85,90], "labelExpr": "datum.value % 10 == 0 ? datum.label : ''", "gridDash": {"condition": {"test": "datum.value % 10 != 0", "value": [1,3]}, "value": []}, "gridColor": {"condition": {"test": "datum.value % 10 != 0", "value": "#b0b0b0"}, "value": "#dddddd"}, "gridWidth": {"condition": {"test": "datum.value % 10 != 0", "value": 1}, "value": 1.4}}}
    }},
   {"mark": {"type": "point", "opacity": 0},
    "encoding": {"x": {"field": "t", "type": "quantitative", "scale": {"type": "log", "domain": [0.000182, 0.182], "nice": false}, "axis": {"orient": "top", "title": "τc, s", "values": [0.0005, 0.01, 0.1], "format": "~g", "grid": false, "labelPadding": 9, "titlePadding": 3}}}}
  ],
  "resolve": {"scale": {"x": "independent"}}},
 {"width": 253, "height": 131, "data": {"name": "b4"},
  "layer": [
   {"mark": {"type": "line", "color": "#0000ff", "strokeWidth": 1.2, "point": {"shape": "square", "filled": false, "size": 100, "color": "#0000ff", "strokeWidth": 1.3}},
    "encoding": {
     "x": {"field": "f", "type": "quantitative", "scale": {"type": "log", "domain": [0.01, 100], "nice": false}, "axis": {"title": "Lc factor", "labelPadding": 6, "values": [0.01, 1, 100], "labelExpr": "datum.value == 0.01 ? '10⁻²' : datum.value == 1 ? '10⁰' : '10²'", "gridColor": "#dddddd", "gridWidth": 1.4}},
     "y": {"field": "y", "type": "quantitative", "scale": {"domain": [75, 100], "nice": false, "zero": false}, "axis": {"title": "peak SPL, dB", "titlePadding": 6, "values": [80,85,90,95,100], "labelExpr": "datum.value % 10 == 0 ? datum.label : ''", "gridDash": {"condition": {"test": "datum.value % 10 != 0", "value": [1,3]}, "value": []}, "gridColor": {"condition": {"test": "datum.value % 10 != 0", "value": "#b0b0b0"}, "value": "#dddddd"}, "gridWidth": {"condition": {"test": "datum.value % 10 != 0", "value": 1}, "value": 1.4}}}
    }},
   {"mark": {"type": "point", "opacity": 0},
    "encoding": {"x": {"field": "d", "type": "quantitative", "scale": {"type": "log", "domain": [0.038, 380], "nice": false}, "axis": {"orient": "top", "title": "peak Lc/D", "values": [0.1, 1, 10, 100], "format": "~g", "grid": false, "labelPadding": 9, "titlePadding": 3}}}}
  ],
  "resolve": {"scale": {"x": "independent"}}}
 ], "spacing": 98, "bounds": "flush"}
]
}
